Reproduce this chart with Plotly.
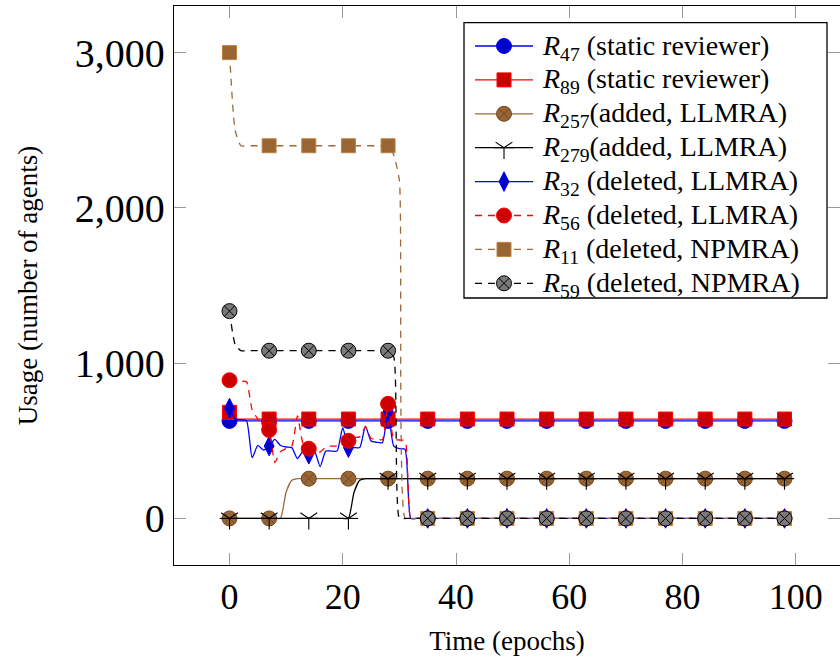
import plotly.graph_objects as go

# Epoch index for every series
epochs = list(range(99))

# Usage per epoch (number of agents)
r47 = [
    628, 628, 628, 628, 628, 628, 628, 628, 628, 628, 628,
    628, 628, 628, 628, 628, 628, 628, 628, 628, 628, 628,
    628, 628, 628, 628, 628, 628, 628, 628, 628, 628, 628,
    628, 628, 628, 628, 628, 628, 628, 628, 628, 628, 628,
    628, 628, 628, 628, 628, 628, 628, 628, 628, 628, 628,
    628, 628, 628, 628, 628, 628, 628, 628, 628, 628, 628,
    628, 628, 628, 628, 628, 628, 628, 628, 628, 628, 628,
    628, 628, 628, 628, 628, 628, 628, 628, 628, 628, 628,
    628, 628, 628, 628, 628, 628, 628, 628, 628, 628, 628,
]
r89 = [
    683, 640, 640, 640, 640, 640, 640, 640, 640, 640, 640,
    640, 640, 640, 640, 640, 640, 640, 640, 640, 640, 640,
    640, 640, 640, 640, 640, 640, 640, 640, 640, 640, 640,
    640, 640, 640, 640, 640, 640, 640, 640, 640, 640, 640,
    640, 640, 640, 640, 640, 640, 640, 640, 640, 640, 640,
    640, 640, 640, 640, 640, 640, 640, 640, 640, 640, 640,
    640, 640, 640, 640, 640, 640, 640, 640, 640, 640, 640,
    640, 640, 640, 640, 640, 640, 640, 640, 640, 640, 640,
    640, 640, 640, 640, 640, 640, 640, 640, 640, 640, 640,
]
r257 = [
    0, 0, 0, 0, 0, 0, 0, 0, 0, 0, 170,
    245, 256, 256, 256, 256, 256, 256, 256, 256, 256, 256,
    256, 256, 256, 256, 256, 256, 256, 256, 256, 256, 256,
    256, 256, 256, 256, 256, 256, 256, 256, 256, 256, 256,
    256, 256, 256, 256, 256, 256, 256, 256, 256, 256, 256,
    256, 256, 256, 256, 256, 256, 256, 256, 256, 256, 256,
    256, 256, 256, 256, 256, 256, 256, 256, 256, 256, 256,
    256, 256, 256, 256, 256, 256, 256, 256, 256, 256, 256,
    256, 256, 256, 256, 256, 256, 256, 256, 256, 256, 256,
]
r279 = [
    0, 0, 0, 0, 0, 0, 0, 0, 0, 0, 0,
    0, 0, 0, 0, 0, 0, 0, 0, 0, 0, 0,
    170, 245, 256, 256, 256, 256, 256, 256, 256, 256, 256,
    256, 256, 256, 256, 256, 256, 256, 256, 256, 256, 256,
    256, 256, 256, 256, 256, 256, 256, 256, 256, 256, 256,
    256, 256, 256, 256, 256, 256, 256, 256, 256, 256, 256,
    256, 256, 256, 256, 256, 256, 256, 256, 256, 256, 256,
    256, 256, 256, 256, 256, 256, 256, 256, 256, 256, 256,
    256, 256, 256, 256, 256, 256, 256, 256, 256, 256, 256,
]
r32 = [
    710, 640, 635, 630, 391, 470, 440, 466, 509, 470, 460,
    456, 385, 434, 413, 434, 333, 434, 434, 434, 585, 456,
    456, 456, 595, 498, 490, 488, 690, 466, 450, 445, 0,
    0, 0, 0, 0, 0, 0, 0, 0, 0, 0, 0,
    0, 0, 0, 0, 0, 0, 0, 0, 0, 0, 0,
    0, 0, 0, 0, 0, 0, 0, 0, 0, 0, 0,
    0, 0, 0, 0, 0, 0, 0, 0, 0, 0, 0,
    0, 0, 0, 0, 0, 0, 0, 0, 0, 0, 0,
    0, 0, 0, 0, 0, 0, 0, 0, 0, 0, 0,
]
r56 = [
    890, 890, 885, 880, 700, 640, 600, 570, 360, 430, 450,
    466, 660, 480, 449, 430, 427, 460, 466, 466, 480, 500,
    520, 525, 589, 515, 512, 507, 738, 510, 505, 500, 0,
    0, 0, 0, 0, 0, 0, 0, 0, 0, 0, 0,
    0, 0, 0, 0, 0, 0, 0, 0, 0, 0, 0,
    0, 0, 0, 0, 0, 0, 0, 0, 0, 0, 0,
    0, 0, 0, 0, 0, 0, 0, 0, 0, 0, 0,
    0, 0, 0, 0, 0, 0, 0, 0, 0, 0, 0,
    0, 0, 0, 0, 0, 0, 0, 0, 0, 0, 0,
]
r11 = [
    3000, 2500, 2400, 2400, 2400, 2400, 2400, 2400, 2400, 2400, 2400,
    2400, 2400, 2400, 2400, 2400, 2400, 2400, 2400, 2400, 2400, 2400,
    2400, 2400, 2400, 2400, 2400, 2400, 2400, 2340, 2175, 0, 0,
    0, 0, 0, 0, 0, 0, 0, 0, 0, 0, 0,
    0, 0, 0, 0, 0, 0, 0, 0, 0, 0, 0,
    0, 0, 0, 0, 0, 0, 0, 0, 0, 0, 0,
    0, 0, 0, 0, 0, 0, 0, 0, 0, 0, 0,
    0, 0, 0, 0, 0, 0, 0, 0, 0, 0, 0,
    0, 0, 0, 0, 0, 0, 0, 0, 0, 0, 0,
]
r59 = [
    1335, 1120, 1080, 1080, 1080, 1080, 1080, 1080, 1080, 1080, 1080,
    1080, 1080, 1080, 1080, 1080, 1080, 1080, 1080, 1080, 1080, 1080,
    1080, 1080, 1080, 1080, 1080, 1080, 1080, 1040, 0, 0, 0,
    0, 0, 0, 0, 0, 0, 0, 0, 0, 0, 0,
    0, 0, 0, 0, 0, 0, 0, 0, 0, 0, 0,
    0, 0, 0, 0, 0, 0, 0, 0, 0, 0, 0,
    0, 0, 0, 0, 0, 0, 0, 0, 0, 0, 0,
    0, 0, 0, 0, 0, 0, 0, 0, 0, 0, 0,
    0, 0, 0, 0, 0, 0, 0, 0, 0, 0, 0,
]

legend_names = [
    "<i>R</i><sub>47</sub> (static reviewer)",
    "<i>R</i><sub>89</sub> (static reviewer)",
    "<i>R</i><sub>257</sub>(added, LLMRA)",
    "<i>R</i><sub>279</sub>(added, LLMRA)",
    "<i>R</i><sub>32</sub> (deleted, LLMRA)",
    "<i>R</i><sub>56</sub> (deleted, LLMRA)",
    "<i>R</i><sub>11</sub> (deleted, NPMRA)",
    "<i>R</i><sub>59</sub> (deleted, NPMRA)",
]

x_ticks = [0, 20, 40, 60, 80, 100]
y_ticks = [0, 1000, 2000, 3000]
y_tick_text = ["0", "1,000", "2,000", "3,000"]

MARK_EVERY = 7
DASH = "7px,6px"
FONT = "Liberation Serif"

BLUE, DBLUE = "#0000ff", "#0000cc"
RED, DRED = "#ff0000", "#cc0000"
BROWN_LINE, BROWN, DBROWN = "#9a6a3c", "#bf8040", "#996633"
BLACK, GREY = "#000000", "#7a7a7a"
TICK_GREY = "#9a9a9a"

series = [
    dict(y=r47, line=BLUE, dash="solid", symbol="circle", size=15, fill=DBLUE, edge=BLUE),
    dict(y=r89, line=RED, dash="solid", symbol="square", size=14, fill=DRED, edge=RED),
    dict(y=r257, line=BROWN_LINE, dash="solid", symbol="circle-x", size=15, fill=DBROWN, edge="#6e4a26"),
    dict(y=r279, line=BLACK, dash="solid", symbol="star-lines", size=14, fill=BLACK, edge=BLACK),
    dict(y=r32, line=BLUE, dash="solid", symbol="diamond-tall", size=14, fill=DBLUE, edge=BLUE),
    dict(y=r56, line=RED, dash=DASH, symbol="circle", size=15, fill=DRED, edge=RED),
    dict(y=r11, line=BROWN_LINE, dash=DASH, symbol="square", size=14, fill=DBROWN, edge=BROWN),
    dict(y=r59, line=BLACK, dash=DASH, symbol="circle-x", size=15, fill=GREY, edge=BLACK),
]

# Plot area in page pixels (used by the overlay axes that hold the legend)
PLOT_L, PLOT_R, PLOT_T, PLOT_B = 174, 840, 6, 565

# Legend geometry, in page pixels
LEG_BOX = (464, 22.7, 827, 298)
LEG_ROW0, LEG_STEP = 46, 33.9
LEG_LINE_X0, LEG_LINE_X1, LEG_MARK_X, LEG_TEXT_X = 475, 533, 504, 540


def marker_groups(s):
    """Return the marker specs for a series (the star is built from two glyphs)."""
    if s["symbol"] == "star-lines":
        return [dict(symbol=sym, size=s["size"], color=BLACK,
                     line=dict(color=BLACK, width=1.1))
                for sym in ("y-down-open", "line-ew-open")]
    return [dict(symbol=s["symbol"], size=s["size"], color=s["fill"],
                 line=dict(color=s["edge"], width=1))]


fig = go.Figure()

for s in series:
    line = dict(color=s["line"], width=1.3, dash=s["dash"], shape="spline", smoothing=0.55)
    fig.add_trace(go.Scatter(
        x=epochs, y=s["y"], mode="lines", line=line, showlegend=False,
        hoverinfo="skip",
    ))
    mx = epochs[::MARK_EVERY]
    my = s["y"][::MARK_EVERY]
    for mk in marker_groups(s):
        fig.add_trace(go.Scatter(
            x=mx, y=my, mode="markers", marker=mk,
            showlegend=False, hoverinfo="skip",
        ))

# Legend drawn on a pixel-scaled overlay axis pair
shapes = [dict(
    type="rect", xref="x2", yref="y2", layer="below",
    x0=LEG_BOX[0], y0=LEG_BOX[1], x1=LEG_BOX[2], y1=LEG_BOX[3],
    fillcolor="white", line=dict(color="black", width=1.3),
)]
annotations = []
for i, (name, s) in enumerate(zip(legend_names, series)):
    row = LEG_ROW0 + i * LEG_STEP
    fig.add_trace(go.Scatter(
        x=[LEG_LINE_X0, LEG_LINE_X1], y=[row, row], mode="lines",
        line=dict(color=s["line"], width=1.3, dash=s["dash"]),
        xaxis="x2", yaxis="y2", showlegend=False, hoverinfo="skip",
    ))
    for mk in marker_groups(s):
        fig.add_trace(go.Scatter(
            x=[LEG_MARK_X], y=[row], mode="markers", marker=mk,
            xaxis="x2", yaxis="y2", showlegend=False, hoverinfo="skip",
        ))
    annotations.append(dict(
        x=LEG_TEXT_X, y=row + 1, xref="x2", yref="y2", text=name,
        showarrow=False, xanchor="left", yanchor="middle",
        font=dict(family=FONT, size=28, color="black"),
    ))

axis_common = dict(
    ticks="inside", ticklen=12, tickwidth=1, tickcolor=TICK_GREY,
    showgrid=False, zeroline=False,
)

fig.update_layout(
    width=840, height=662,
    margin=dict(l=PLOT_L, r=840 - PLOT_R, t=PLOT_T, b=662 - PLOT_B),
    paper_bgcolor="white", plot_bgcolor="white",
    font=dict(family=FONT, color="black"),
    showlegend=False,
    shapes=shapes,
    annotations=annotations,
    xaxis=dict(
        range=[-9.8, 107.8], tickvals=x_ticks,
        showline=True, linecolor="black", linewidth=1.3, mirror="ticks",
        tickfont=dict(family=FONT, size=36),
        title=dict(text="Time (epochs)", font=dict(family=FONT, size=27), standoff=14),
        **axis_common,
    ),
    yaxis=dict(
        range=[-300, 3300], tickvals=y_ticks, ticktext=y_tick_text,
        showline=True, linecolor="black", linewidth=1.3, mirror=False,
        tickfont=dict(family=FONT, size=40),
        title=dict(text="Usage (number of agents)", font=dict(family=FONT, size=27), standoff=29),
        **axis_common,
    ),
    # inward ticks along the right edge, no axis line there
    yaxis3=dict(
        overlaying="y", side="right", range=[-300, 3300], tickvals=y_ticks,
        showticklabels=False, showline=False, linewidth=0,
        linecolor="rgba(0,0,0,0)", **axis_common,
    ),
    xaxis2=dict(overlaying="x", range=[PLOT_L, PLOT_R], visible=False, fixedrange=True),
    yaxis2=dict(overlaying="y", range=[PLOT_B, PLOT_T], visible=False, fixedrange=True),
)

# a hidden trace so the right-hand tick axis is laid out
fig.add_trace(go.Scatter(x=[None], y=[None], yaxis="y3", showlegend=False, hoverinfo="skip"))

fig.write_html("out.html")
